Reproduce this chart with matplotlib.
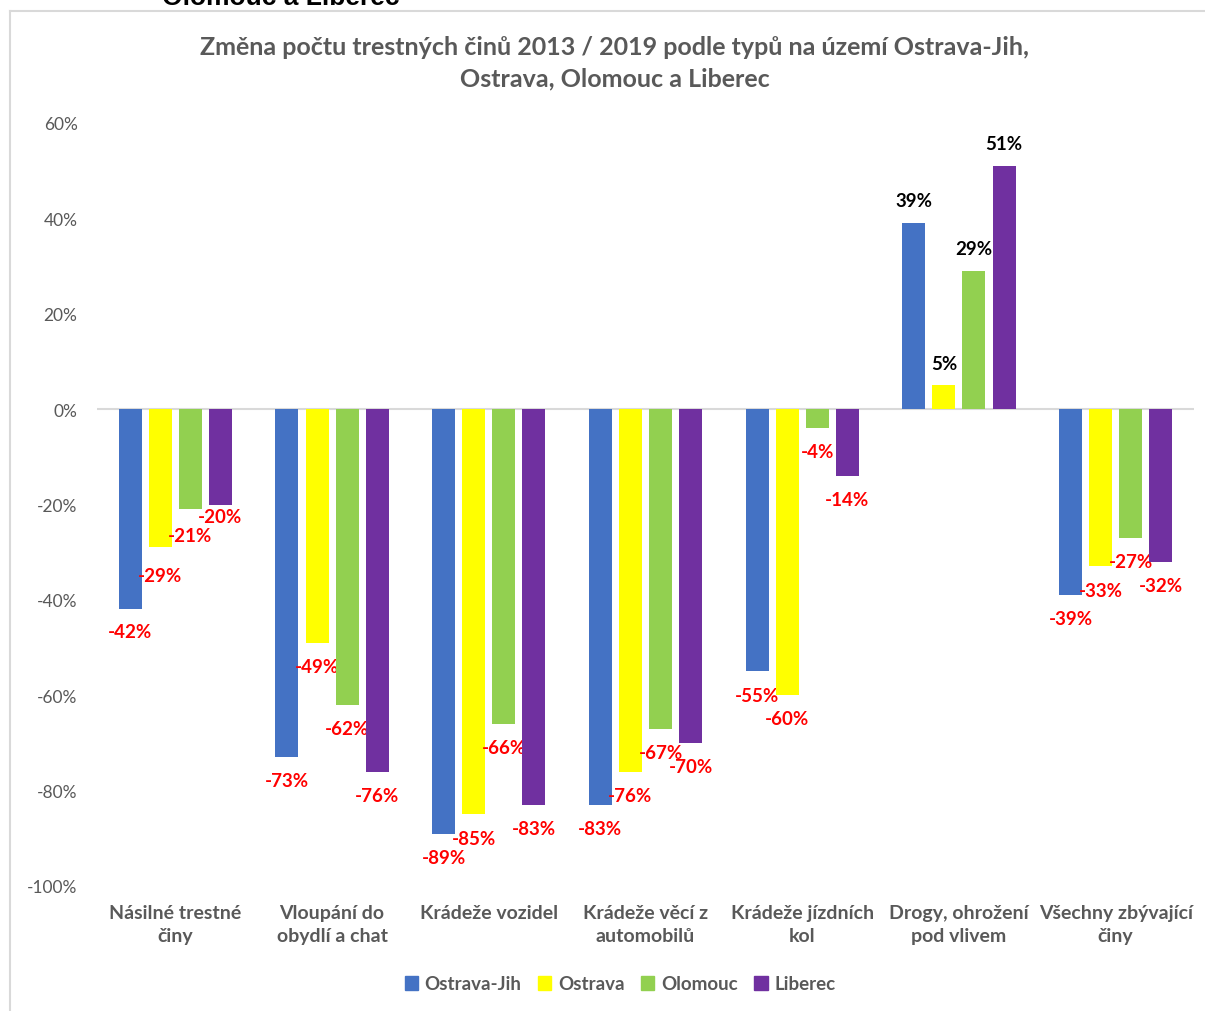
import numpy as np
import matplotlib.pyplot as plt
from matplotlib.lines import Line2D

plt.rcParams['font.family'] = ['Lato', 'DejaVu Sans']

categories = ['Násilné trestné\nčiny', 'Vloupání do\nobydlí a chat', 'Krádeže vozidel',
              'Krádeže věcí z\nautomobilů', 'Krádeže jízdních\nkol', 'Drogy, ohrožení\npod vlivem',
              'Všechny zbývající\nčiny']
series = ['Ostrava-Jih', 'Ostrava', 'Olomouc', 'Liberec']
ostrava_jih = [-42, -73, -89, -83, -55, 39, -39]
ostrava = [-29, -49, -85, -76, -60, 5, -33]
olomouc = [-21, -62, -66, -67, -4, 29, -27]
liberec = [-20, -76, -83, -70, -14, 51, -32]
colors = ['#4472C4', '#FFFF00', '#92D050', '#7030A0']

values = [ostrava_jih, ostrava, olomouc, liberec]
gray = '#595959'

# labels that were moved by hand in the original (series index, category index) -> offset in points
label_offset = {(0, 0): -16, (1, 0): -20, (2, 0): -19, (3, 0): -9}

fig = plt.figure(figsize=(12.05, 10.12), dpi=100)
ax = fig.add_axes([97/1205, 1-887/1012, (1194-97)/1205, (887-124)/1012])

x = np.arange(len(categories))
step = 0.192
width = 0.147
for i, (name, vals, c) in enumerate(zip(series, values, colors)):
    pos = x + (i - 1.5) * step
    ax.bar(pos, vals, width, color=c, label=name, zorder=3)
    for j, (p, v) in enumerate(zip(pos, vals)):
        if v < 0:
            off = label_offset.get((i, j), -17)
            ax.annotate(f'{v}%', (p, v), xytext=(0, off), textcoords='offset points',
                        ha='center', va='center', color='#FF0000', fontsize=13.5, fontweight='bold')
        else:
            ax.annotate(f'{v}%', (p, v), xytext=(0, 16), textcoords='offset points',
                        ha='center', va='center', color='black', fontsize=13.5, fontweight='bold')

ax.set_xlim(-0.5, len(categories) - 0.5)
ax.set_ylim(-100, 60)
ax.set_yticks(np.arange(-100, 61, 20))
ax.set_yticklabels([f'{t}%' for t in range(-100, 61, 20)], color=gray, fontsize=12.5)
ax.axhline(0, color='#d9d9d9', lw=1.5, zorder=2)
for s in ax.spines.values():
    s.set_visible(False)
ax.tick_params(axis='y', length=0, pad=14)
ax.tick_params(axis='x', length=0, pad=13)
ax.set_xticks(x)
ax.set_xticklabels(categories, color=gray, fontsize=14, fontweight='bold', linespacing=1.45)

fig.text(615/1205, 1-63/1012,
         'Změna počtu trestných činů 2013 / 2019 podle typů na území Ostrava-Jih,\nOstrava, Olomouc a Liberec',
         ha='center', va='center', fontsize=18, fontweight='bold', color=gray, linespacing=1.45)

handles = [plt.Rectangle((0, 0), 1, 1, color=c) for c in colors]
leg = fig.legend(handles, series, loc='center', bbox_to_anchor=(620/1205, 1-985/1012), ncol=4,
                 frameon=False, handlelength=0.7, handleheight=0.7, handletextpad=0.35,
                 columnspacing=0.9, prop={'size': 13.5, 'weight': 'bold'})
for t in leg.get_texts():
    t.set_color(gray)

# outer chart border (top and left) and cut-off heading above it
fig.add_artist(Line2D([10/1205, 10/1205], [0, 1-12/1012], color='#d9d9d9', lw=1.5))
fig.add_artist(Line2D([10/1205, 1], [1-12/1012, 1-12/1012], color='#d9d9d9', lw=1.5))
fig.text(162/1205, 1-5/1012, 'Olomouc a Liberec', ha='left', va='baseline',
         fontsize=19, fontweight='bold', family='Liberation Sans', color='black')

fig.savefig('out.png', dpi=100)
